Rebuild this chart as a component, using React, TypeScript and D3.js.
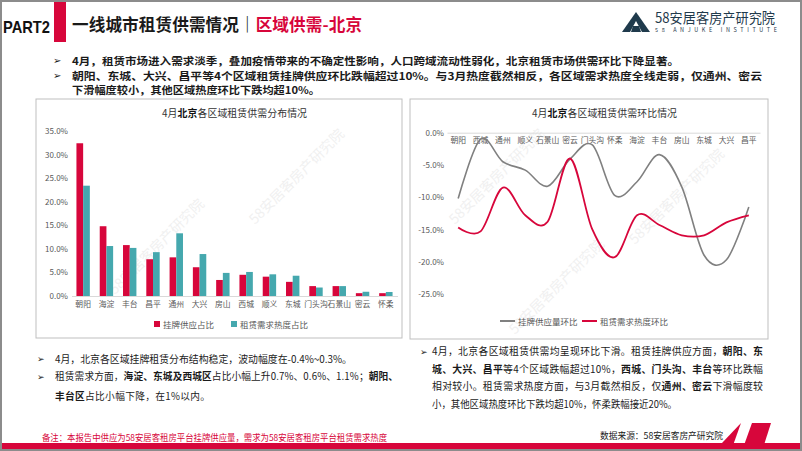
import React, { useRef, useEffect } from 'react'
import * as d3 from 'd3'

// left chart: share of listings / demand by district (%)
const districts = ['朝阳', '海淀', '丰台', '昌平', '通州', '大兴', '房山', '西城', '顺义', '东城', '门头沟', '石景山', '密云', '怀柔']
const supplyShare = [32.4, 14.8, 10.8, 7.8, 8.2, 6.1, 3.4, 4.5, 4.1, 3.0, 2.1, 2.1, 0.6, 0.6]
const demandShare = [23.4, 10.6, 10.2, 9.3, 13.3, 8.9, 4.9, 5.1, 4.6, 4.3, 1.8, 2.1, 0.9, 0.85]
const shareTicks = [0, 5, 10, 15, 20, 25, 30, 35]

// right chart: month-on-month change (%)
const momDistricts = ['朝阳', '西城', '通州', '顺义', '石景山', '密云', '门头沟', '怀柔', '海淀', '丰台', '房山', '东城', '大兴', '昌平']
const supplyMoM = [-10.2, -1.0, -4.5, -5.8, -8.3, -4.1, -1.9, -9.7, -7.6, -3.4, -8.4, -19.0, -19.7, -11.5]
const demandMoM = [-14.7, -15.3, -8.5, -12.8, -13.8, -4.0, -15.0, -19.3, -12.8, -14.3, -15.9, -15.9, -13.9, -12.8]
const momTicks = [0, -5, -10, -15, -20, -25]

const RED = '#d7063b'
const TEAL = '#45a8ae'
const GREY = '#808080'
const FONT = '"Noto Sans CJK SC", "Noto Sans", sans-serif'

type Seg = [string, boolean]

const App = () => {
	const svgRef = useRef<SVGSVGElement | null>(null)
	const svgWidth = 802,
		svgHeight = 451

	useEffect(() => {
		const svg = d3.select(svgRef.current)
		svg.selectAll('*').remove()
		svg.attr('font-family', FONT)

		svg.append('rect').attr('width', svgWidth).attr('height', svgHeight).attr('fill', '#fff')

		// rich text helper (mixed bold tspans); single runs may squeeze glyphs, mixed runs only stretch spacing
		const rich = (x: number, y: number, segs: Seg[], size: number, fill: string, len?: number) => {
			const t = svg
				.append('text')
				.attr('x', x)
				.attr('y', y)
				.attr('font-size', size)
				.attr('fill', fill)
				.attr('dominant-baseline', 'central')
			segs.forEach(([s, b]) => t.append('tspan').attr('font-weight', b ? 700 : 400).text(s))
			if (len) t.attr('textLength', len).attr('lengthAdjust', segs.length > 1 ? 'spacing' : 'spacingAndGlyphs')
			return t
		}

		// faint watermarks
		const wm = [
			[160, 250], [300, 180], [560, 290], [680, 200], [500, 180]
		]
		wm.forEach(([x, y]) =>
			svg
				.append('text')
				.attr('transform', `translate(${x},${y}) rotate(-45)`)
				.attr('text-anchor', 'middle')
				.attr('font-size', 14)
				.attr('fill', '#d0d0d0')
				.attr('opacity', 0.3)
				.text('58安居客房产研究院')
		)

		// header
		svg.append('rect').attr('x', 54).attr('y', 0).attr('width', 12).attr('height', 42).attr('fill', RED)
		svg.append('text').attr('x', 3).attr('y', 33).attr('font-size', 17).attr('font-weight', 700).attr('fill', '#111').attr('textLength', 47).attr('lengthAdjust', 'spacingAndGlyphs').attr('font-family', '"Liberation Sans", Arial, sans-serif').text('PART2')
		const title = svg.append('text').attr('x', 72).attr('y', 31).attr('font-size', 16.6).attr('font-weight', 700).attr('textLength', 290).attr('lengthAdjust', 'spacing')
		title.append('tspan').attr('fill', '#1a1a1a').text('一线城市租赁供需情况｜')
		title.append('tspan').attr('fill', RED).text('区域供需-北京')

		// logo
		const logo = svg.append('g').attr('transform', 'translate(622,12)')
		logo.append('path').attr('d', 'M14,0 L28,20 L0,20 Z').attr('fill', '#1f3a4c')
		logo.append('path').attr('d', 'M14,9 L20,20 L8,20 Z').attr('fill', '#fff')
		logo.append('path').attr('d', 'M11,14 L17,14 L19,20 L9,20 Z').attr('fill', '#1f3a4c')
		svg.append('text').attr('x', 655).attr('y', 22.5).attr('font-size', 14).attr('fill', '#1f3a4c').attr('textLength', 120).attr('lengthAdjust', 'spacingAndGlyphs').text('58安居客房产研究院')
		svg.append('text').attr('x', 655).attr('y', 31.5).attr('font-size', 5.5).attr('fill', '#1f3a4c').attr('textLength', 122).attr('lengthAdjust', 'spacing').text('58 ANJUKE INSTITUTE')

		// top bullets
		const topLines: { segs: Seg[]; len: number; arrow: boolean }[] = [
			{ segs: [['4月，租赁市场进入需求淡季，叠加疫情带来的不确定性影响，人口跨域流动性弱化，北京租赁市场供需环比下降显著。', true]], len: 607, arrow: true },
			{ segs: [['朝阳、东城、大兴、昌平等4个区域租赁挂牌供应环比跌幅超过10%。与3月热度截然相反，各区域需求热度全线走弱，仅通州、密云', true]], len: 690, arrow: true },
			{ segs: [['下滑幅度较小，其他区域热度环比下跌均超10%。', true]], len: 248, arrow: false }
		]
		topLines.forEach((l, i) => {
			const y = 59.8 + i * 14.8
			if (l.arrow) svg.append('text').attr('x', 53).attr('y', y).attr('dominant-baseline', 'central').attr('font-size', 9.5).attr('fill', '#1a1a1a').text('➢')
			rich(72, y, l.segs, 10.2, '#1a1a1a', l.len)
		})

		// panels
		svg.append('rect').attr('x', 36).attr('y', 99).attr('width', 366).attr('height', 239).attr('fill', 'none').attr('stroke', '#bfbfbf')
		svg.append('rect').attr('x', 410).attr('y', 99).attr('width', 358).attr('height', 240).attr('fill', 'none').attr('stroke', '#bfbfbf')

		// ---------- left chart ----------
		const xL = d3.scaleBand().domain(districts).range([71.5, 397.5])
		const xIn = d3.scaleBand().domain(['supply', 'demand']).range([0, 13.4])
		const yL = d3.scaleLinear().domain([0, 35]).range([296, 131])

		const lt = svg.append('text').attr('x', 162).attr('y', 113).attr('dominant-baseline', 'central').attr('font-size', 9.9).attr('fill', '#333').attr('textLength', 145).attr('lengthAdjust', 'spacing')
		lt.append('tspan').text('4月')
		lt.append('tspan').attr('font-weight', 700).attr('fill', '#111').text('北京')
		lt.append('tspan').text('各区域租赁供需分布情况')

		const series = [
			{ key: 'supply', values: supplyShare, color: RED },
			{ key: 'demand', values: demandShare, color: TEAL }
		]
		series.forEach((s) => {
			svg
				.append('g')
				.selectAll('rect')
				.data(districts)
				.enter()
				.append('rect')
				.attr('x', (d) => xL(d)! + xL.bandwidth() / 2 - 6.7 + xIn(s.key)!)
				.attr('width', xIn.bandwidth())
				.attr('y', (d, i) => yL(s.values[i]))
				.attr('height', (d, i) => yL(0) - yL(s.values[i]))
				.attr('fill', s.color)
		})

		const yAxisL = svg
			.append('g')
			.attr('transform', 'translate(68,0)')
			.call(d3.axisLeft(yL).tickValues(shareTicks).tickSize(0).tickPadding(0).tickFormat((d) => (d as number).toFixed(1) + '%'))
		yAxisL.select('.domain').remove()
		yAxisL.selectAll('text').attr('font-family', FONT).attr('font-size', 8).attr('fill', '#595959')

		const xAxisL = svg
			.append('g')
			.attr('transform', `translate(0,${yL(0)})`)
			.call(d3.axisBottom(xL).tickSize(0).tickPadding(5))
		xAxisL.select('.domain').attr('stroke', '#d9d9d9')
		xAxisL.selectAll('text').attr('font-family', FONT).attr('font-size', 7.8).attr('fill', '#595959')

		const legL = [
			{ label: '挂牌供应占比', color: RED, x: 154 },
			{ label: '租赁需求热度占比', color: TEAL, x: 231 }
		]
		legL.forEach((l) => {
			svg.append('rect').attr('x', l.x).attr('y', 321).attr('width', 6).attr('height', 6).attr('fill', l.color)
			svg.append('text').attr('x', l.x + 9).attr('y', 324).attr('dominant-baseline', 'central').attr('font-size', 8.5).attr('fill', '#595959').text(l.label)
		})

		// ---------- right chart ----------
		const xR = d3.scaleBand().domain(momDistricts).range([447, 760])
		const yR = d3.scaleLinear().domain([-25, 0]).range([294, 132.7])

		const rt = svg.append('text').attr('x', 532).attr('y', 113).attr('dominant-baseline', 'central').attr('font-size', 9.9).attr('fill', '#333').attr('textLength', 145).attr('lengthAdjust', 'spacing')
		rt.append('tspan').text('4月')
		rt.append('tspan').attr('font-weight', 700).attr('fill', '#111').text('北京')
		rt.append('tspan').text('各区域租赁供需环比情况')

		const yAxisR = svg
			.append('g')
			.attr('transform', 'translate(444,0)')
			.call(d3.axisLeft(yR).tickValues(momTicks).tickSize(0).tickPadding(0).tickFormat((d) => (d as number).toFixed(1) + '%'))
		yAxisR.select('.domain').remove()
		yAxisR.selectAll('text').attr('font-family', FONT).attr('font-size', 8).attr('fill', '#595959')

		const xAxisR = svg
			.append('g')
			.attr('transform', `translate(0,${yR(0)})`)
			.call(d3.axisBottom(xR).tickSize(0).tickPadding(5))
		xAxisR.select('.domain').attr('stroke', '#d9d9d9')
		xAxisR.selectAll('text').attr('font-family', FONT).attr('font-size', 7.8).attr('fill', '#595959')

		const line = d3
			.line<number>()
			.x((d, i) => xR(momDistricts[i])! + xR.bandwidth() / 2)
			.y((d) => yR(d))
			.curve(d3.curveCatmullRom.alpha(0))

		svg.append('path').attr('d', line(supplyMoM)).attr('fill', 'none').attr('stroke', GREY).attr('stroke-width', 1.6)
		svg.append('path').attr('d', line(demandMoM)).attr('fill', 'none').attr('stroke', RED).attr('stroke-width', 1.8)

		const legR = [
			{ label: '挂牌供应量环比', color: GREY, x: 500 },
			{ label: '租赁需求热度环比', color: RED, x: 582 }
		]
		legR.forEach((l) => {
			svg.append('line').attr('x1', l.x).attr('x2', l.x + 15).attr('y1', 321).attr('y2', 321).attr('stroke', l.color).attr('stroke-width', 2)
			svg.append('text').attr('x', l.x + 18).attr('y', 321).attr('dominant-baseline', 'central').attr('font-size', 8.5).attr('fill', '#595959').text(l.label)
		})

		// bottom-left notes
		svg.append('text').attr('x', 37).attr('y', 358).attr('dominant-baseline', 'central').attr('font-size', 9).attr('fill', '#1a1a1a').text('➢')
		rich(55, 358, [['4月，北京各区域挂牌租赁分布结构稳定，波动幅度在-0.4%~0.3%。', false]], 10, '#1a1a1a', 297)
		svg.append('text').attr('x', 37).attr('y', 376).attr('dominant-baseline', 'central').attr('font-size', 9).attr('fill', '#1a1a1a').text('➢')
		rich(55, 376, [['租赁需求方面，', false], ['海淀、东城及西城区', true], ['占比小幅上升0.7%、0.6%、1.1%；', false], ['朝阳、', true]], 9.7, '#1a1a1a', 343)
		rich(55, 396, [['丰台区', true], ['占比小幅下降，在1%以内。', false]], 9.7, '#1a1a1a', 155)

		// bottom-right notes
		svg.append('text').attr('x', 420).attr('y', 351).attr('dominant-baseline', 'central').attr('font-size', 9).attr('fill', '#1a1a1a').text('➢')
		const rLines: { segs: Seg[]; len: number }[] = [
			{ segs: [['4月，北京各区域租赁供需均呈现环比下滑。租赁挂牌供应方面，', false], ['朝阳、东', true]], len: 331 },
			{ segs: [['城、大兴、昌平', true], ['等4个区域跌幅超过10%，', false], ['西城、门头沟、丰台', true], ['等环比跌幅', false]], len: 331 },
			{ segs: [['相对较小。租赁需求热度方面，与3月截然相反，仅', false], ['通州、密云', true], ['下滑幅度较', false]], len: 331 },
			{ segs: [['小，其他区域热度环比下跌均超10%，怀柔跌幅接近20%。', false]], len: 245 }
		]
		rLines.forEach((l, i) => rich(432, 351 + i * 17.6, l.segs, 9.9, '#1a1a1a', l.len))

		// footnotes
		rich(42, 437, [['备注：本报告中供应为58安居客租房平台挂牌供应量，需求为58安居客租房平台租赁需求热度', false]], 9, RED, 345)
		rich(600, 435, [['数据来源：58安居客房产研究院', false]], 9, '#1a1a1a', 123)

		// bottom band and slashes
		svg.append('rect').attr('x', 0).attr('y', 443).attr('width', svgWidth).attr('height', 8).attr('fill', RED)
		svg.append('path').attr('d', 'M722,443 L741,423 L731,451 L722,451 Z').attr('fill', RED)
		svg.append('path').attr('d', 'M743,448 L752,423 L771,423 L763,448 Z').attr('fill', RED)

		// outer frame
		svg.append('rect').attr('x', 1).attr('y', 1).attr('width', svgWidth - 2).attr('height', svgHeight - 2).attr('fill', 'none').attr('stroke', '#8c8c8c').attr('stroke-width', 2)
	}, [])

	return (
		<div style={{ position: 'absolute', left: 0, top: 0 }}>
			<svg ref={svgRef} width={svgWidth} height={svgHeight}></svg>
		</div>
	)
}

export default App
